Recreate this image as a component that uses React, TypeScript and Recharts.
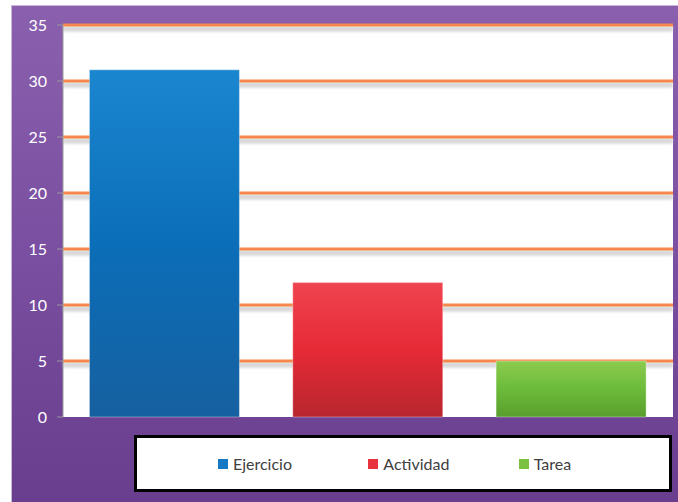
import React from "react";
import { Bar, BarChart, CartesianGrid, Cell, Legend, XAxis, YAxis } from "recharts";

const categories = ["Ejercicio", "Actividad", "Tarea"];
const values = [31, 12, 5];
const yTicks = [0, 5, 10, 15, 20, 25, 30, 35];
const colors = ["#1478c4", "#e8323e", "#7cc242"];
const gradients = [
  ["#1b86d0", "#0b6eb8", "#1660a0"],
  ["#ef4450", "#e62a36", "#b8262e"],
  ["#8ccb4e", "#6cbb3a", "#5a9e2e"],
];

const data = categories.map((name, i) => ({ name, value: values[i] }));

const font = "Lato, 'Open Sans', sans-serif";

function GridLine(props: any) {
  const { x1, x2, y1, y2, index } = props;
  // no orange line on the zero baseline
  if (y1 >= 416) return <g />;
  return (
    <g key={`gl${index}`}>
      <line x1={x1} x2={x2} y1={y1 + 4} y2={y2 + 4} stroke="#b0b0b0" strokeOpacity={0.55} strokeWidth={5} filter="url(#blur)" />
      <line x1={x1} x2={x2} y1={y1} y2={y2} stroke="#f5884a" strokeWidth={3} />
    </g>
  );
}

function LegendBox() {
  return (
    <div
      style={{
        display: "flex",
        alignItems: "center",
        height: "100%",
        paddingLeft: 81,
        fontFamily: font,
        fontSize: 16,
        color: "#404040",
      }}
    >
      {categories.map((c, i) => (
        <div key={c} style={{ display: "flex", alignItems: "center", width: 159 }}>
          <span style={{ width: 10, height: 10, background: colors[i], display: "inline-block", marginRight: 5 }} />
          <span>{c}</span>
        </div>
      ))}
    </div>
  );
}

export default function App() {
  return (
    <div style={{ position: "absolute", left: 0, top: 0, width: 678, height: 502, background: "#fff" }}>
      <div
        style={{
          position: "absolute",
          left: 11,
          top: 5,
          width: 667,
          height: 497,
          background: "linear-gradient(180deg, #8a60ae 0%, #7a4ea0 50%, #6a3e8e 100%)",
          borderTop: "1px solid #c8b8d8",
          borderLeft: "1px solid #c8b8d8",
          boxSizing: "border-box",
        }}
      />
      <BarChart
        width={678}
        height={502}
        data={data}
        margin={{ top: 25, right: 5, bottom: 28, left: 0 }}
        barCategoryGap="13%"
        style={{ position: "absolute", left: 0, top: 0 }}
      >
        <defs>
          {gradients.map((g, i) => (
            <linearGradient key={i} id={`g${i}`} x1="0" y1="0" x2="0" y2="1">
              <stop offset="0%" stopColor={g[0]} />
              <stop offset="50%" stopColor={g[1]} />
              <stop offset="100%" stopColor={g[2]} />
            </linearGradient>
          ))}
          <filter id="blur" filterUnits="userSpaceOnUse" x="0" y="0" width="678" height="502">
            <feGaussianBlur stdDeviation="1.5" />
          </filter>
        </defs>
        <CartesianGrid
          vertical={false}
          horizontal={(p: any) => <GridLine {...p} />}
          fill="#ffffff"
          fillOpacity={1}
        />
        <XAxis dataKey="name" tick={false} tickLine={false} axisLine={{ stroke: "#999" }} height={0} />
        <YAxis
          domain={[0, 35]}
          ticks={yTicks}
          width={63}
          interval={0}
          axisLine={{ stroke: "#999" }}
          tickLine={{ stroke: "#999" }}
          tickSize={6}
          tick={{ fill: "#ffffff", fontSize: 16, fontFamily: font, dx: -8 }}
        />
        <Bar dataKey="value" isAnimationActive={false} stroke="rgba(255,255,255,0.35)" strokeWidth={1}>
          {data.map((d, i) => (
            <Cell key={d.name} fill={`url(#g${i})`} />
          ))}
        </Bar>
        <Legend
          content={<LegendBox />}
          wrapperStyle={{
            position: "absolute",
            left: 134,
            top: 435,
            width: 538,
            height: 57,
            border: "3px solid #000",
            background: "#fff",
            boxSizing: "border-box",
          }}
        />
      </BarChart>
    </div>
  );
}
